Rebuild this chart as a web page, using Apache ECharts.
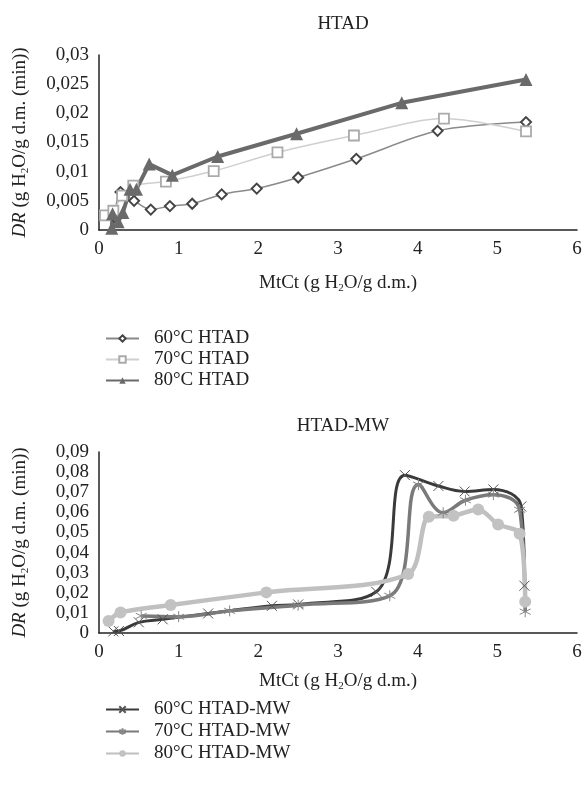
<!DOCTYPE html>
<html>
<head>
<meta charset="utf-8">
<script src="https://cdn.jsdelivr.net/npm/echarts@6/dist/echarts.min.js"></script>
<style>
  html, body { margin: 0; padding: 0; background: #fff; }
  #main { width: 585px; height: 794px; }
</style>
</head>
<body>
<div id="main"></div>
<script>
    // HTAD as [MtCt, DR]
    var htad60 = [[0.2, 0.0022], [0.27, 0.0065], [0.44, 0.005], [0.65, 0.0035], [0.89, 0.0041], [1.17, 0.0045],
        [1.54, 0.0061], [1.98, 0.0071], [2.5, 0.009], [3.23, 0.0122], [4.25, 0.017], [5.36, 0.0185]];
    var htad70 = [[0.075, 0.0025], [0.18, 0.0033], [0.29, 0.0059], [0.43, 0.0076], [0.84, 0.0083], [1.44, 0.0101],
        [2.24, 0.0133], [3.2, 0.0162], [4.33, 0.0191], [5.36, 0.0169]];
    var htad80 = [[0.16, 0.0003], [0.17, 0.0028], [0.24, 0.0014], [0.3, 0.003], [0.39, 0.007], [0.47, 0.007],
        [0.63, 0.0113], [0.92, 0.0094], [1.49, 0.0126], [2.48, 0.0165], [3.8, 0.0218], [5.36, 0.0258]];

    // HTAD-MW
    var mw60 = [[0.18, 0.0008], [0.25, 0.001], [0.5, 0.0053], [0.8, 0.0068], [1.37, 0.0097], [2.17, 0.0135],
        [2.5, 0.0142], [3.48, 0.0205], [3.84, 0.0785], [4.26, 0.0731], [4.59, 0.0704], [4.95, 0.0714],
        [5.3, 0.0629], [5.34, 0.0235]];
    var mw70 = [[0.53, 0.0085], [1.0, 0.0081], [1.64, 0.011], [2.5, 0.0138], [3.65, 0.0185], [4.01, 0.0738],
        [4.32, 0.0598], [4.6, 0.066], [4.95, 0.0688], [5.28, 0.0613], [5.35, 0.0106]];
    var mw80 = [[0.12, 0.006], [0.27, 0.0102], [0.9, 0.0139], [2.1, 0.0202], [3.88, 0.0293], [4.14, 0.0578],
        [4.45, 0.0583], [4.76, 0.0614], [5.01, 0.054], [5.28, 0.0494], [5.35, 0.0156]];

    var titles = ['HTAD', 'HTAD-MW'];
    var namesTop = ['60°C HTAD', '70°C HTAD', '80°C HTAD'];
    var namesBottom = ['60°C HTAD-MW', '70°C HTAD-MW', '80°C HTAD-MW'];
    var yMax = [0.03, 0.09];
    var yStep = [0.005, 0.01];

    var font = 'Liberation Serif';
    var fs = 19;
    var rich = {
        i: { fontFamily: font, fontSize: fs, fontStyle: 'italic', color: '#222', lineHeight: 22 },
        n: { fontFamily: font, fontSize: fs, color: '#222', lineHeight: 22 },
        s: { fontFamily: font, fontSize: 11, color: '#222', lineHeight: 22, verticalAlign: 'bottom', padding: [8, 0, 0, 0] }
    };
    var yName = '{i|DR}{n| (g H}{s|2}{n|O/g d.m. (min))}';
    var xName = '{n|MtCt (g H}{s|2}{n|O/g d.m.)}';

    var comma = function(v) {
        return String(Number(v.toFixed(3))).replace('.', ',');
    };

    var axisLine = { show: true, lineStyle: { color: '#222', width: 1.5 } };

    var makeX = function(idx, gap) {
        return {
            type: 'value', gridIndex: idx, min: 0, max: 6, interval: 1,
            axisLine: axisLine, axisTick: { show: false }, splitLine: { show: false },
            axisLabel: { fontFamily: font, fontSize: fs, color: '#222', margin: 10 },
            name: xName, nameLocation: 'middle', nameGap: gap,
            nameTextStyle: { rich: rich }
        };
    };
    var makeY = function(idx) {
        return {
            type: 'value', gridIndex: idx, min: 0, max: yMax[idx], interval: yStep[idx],
            axisLine: axisLine, axisTick: { show: false }, splitLine: { show: false },
            axisLabel: { fontFamily: font, fontSize: fs, color: '#222', margin: 10, formatter: comma },
            name: yName, nameLocation: 'middle', nameGap: 68,
            nameTextStyle: { rich: rich }
        };
    };

    var crossPath = 'path://M0,0L10,10M10,0L0,10';
    var starPath = 'path://M5,0L5,10M0,2.5L10,7.5M0,7.5L10,2.5';

    var legendText = { fontFamily: font, fontSize: fs, color: '#222', lineHeight: 19, padding: [0, 0, 0, 10] };

    var option = {
        backgroundColor: '#fff',
        animation: false,
        title: [
            { text: titles[0], left: 338, top: 10, textAlign: 'center',
                textStyle: { fontFamily: font, fontSize: fs, fontWeight: 'normal', color: '#222' } },
            { text: titles[1], left: 338, top: 412, textAlign: 'center',
                textStyle: { fontFamily: font, fontSize: fs, fontWeight: 'normal', color: '#222' } }
        ],
        legend: [
            { data: namesTop, orient: 'vertical', left: 100, top: 324, itemWidth: 33, itemHeight: 8, itemGap: 2,
                textStyle: legendText },
            { data: namesBottom, orient: 'vertical', left: 100, top: 695, itemWidth: 33, itemHeight: 8, itemGap: 3,
                textStyle: legendText }
        ],
        grid: [
            { left: 99, right: 8, top: 55, height: 175 },
            { left: 99, right: 8, top: 452, height: 181 }
        ],
        xAxis: [makeX(0, 42), makeX(1, 37)],
        yAxis: [makeY(0), makeY(1)],
        series: [{
            name: namesTop[0], type: 'line', xAxisIndex: 0, yAxisIndex: 0, data: htad60,
            smooth: 0.3, symbol: 'diamond', symbolSize: 10,
            lineStyle: { color: '#8a8a8a', width: 1.5 },
            itemStyle: { color: '#fff', borderColor: '#444', borderWidth: 2 }
        }, {
            name: namesTop[1], type: 'line', xAxisIndex: 0, yAxisIndex: 0, data: htad70,
            smooth: 0.3, symbol: 'rect', symbolSize: 10,
            lineStyle: { color: '#cfcfcf', width: 1.5 },
            itemStyle: { color: '#fff', borderColor: '#aaa', borderWidth: 1.8 }
        }, {
            name: namesTop[2], type: 'line', xAxisIndex: 0, yAxisIndex: 0, data: htad80,
            smooth: false, symbol: 'triangle', symbolSize: 13,
            lineStyle: { color: '#6a6a6a', width: 4 },
            itemStyle: { color: '#6a6a6a' }
        }, {
            name: namesBottom[0], type: 'line', xAxisIndex: 1, yAxisIndex: 1, data: mw60,
            smooth: 0.4, symbol: crossPath, symbolSize: 10,
            lineStyle: { color: '#3a3a3a', width: 3 },
            itemStyle: { color: '#555', borderColor: '#555', borderWidth: 1 }
        }, {
            name: namesBottom[1], type: 'line', xAxisIndex: 1, yAxisIndex: 1, data: mw70,
            smooth: 0.4, symbol: starPath, symbolSize: 11,
            lineStyle: { color: '#7a7a7a', width: 3.5 },
            itemStyle: { color: '#888', borderColor: '#888', borderWidth: 1 }
        }, {
            name: namesBottom[2], type: 'line', xAxisIndex: 1, yAxisIndex: 1, data: mw80,
            smooth: 0.3, symbol: 'circle', symbolSize: 12,
            lineStyle: { color: '#c0c0c0', width: 4.5 },
            itemStyle: { color: '#c2c2c2' }
        }]
    };

    var myChart = echarts.init(document.getElementById('main'));
    myChart.setOption(option);
</script>
</body>
</html>
